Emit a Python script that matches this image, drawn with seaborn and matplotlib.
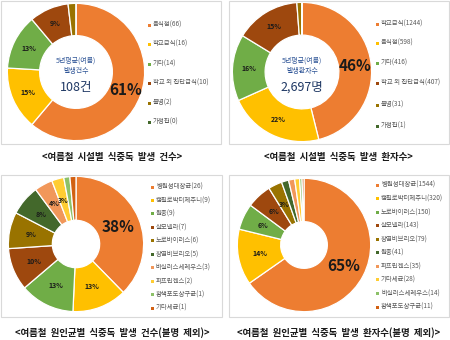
import numpy as np
import matplotlib
matplotlib.use("Agg")
import matplotlib.pyplot as plt
from matplotlib.patches import Rectangle
import seaborn as sns

# ---- data ---------------------------------------------------------------
fac_cnt_labels = ["음식점", "학교급식", "기타", "학교 외 집단급식", "불명", "가정집"]
fac_cnt_values = [66, 16, 14, 10, 2, 0]
fac_cnt_pct = ["61%", "15%", "13%", "9%", "", ""]

fac_pat_labels = ["학교급식", "음식점", "기타", "학교 외 집단급식", "불명", "가정집"]
fac_pat_values = [1244, 598, 416, 407, 31, 1]
fac_pat_pct = ["46%", "22%", "16%", "15%", "", ""]

cause_cnt_labels = ["병원성대장균", "캠필로박터제주니", "원충", "살모넬라", "노로바이러스",
                    "장염비브리오", "바실러스세레우스", "퍼프린젠스", "황색포도상구균", "기타세균"]
cause_cnt_values = [26, 9, 9, 7, 6, 5, 3, 2, 1, 1]
cause_cnt_pct = ["38%", "13%", "13%", "10%", "9%", "8%", "4%", "3%", "", ""]

cause_pat_labels = ["병원성대장균", "캠필로박터제주니", "노로바이러스", "살모넬라", "장염비브리오",
                    "원충", "퍼프린젠스", "기타세균", "바실러스세레우스", "황색포도상구균"]
cause_pat_values = [1544, 320, 150, 143, 79, 41, 35, 28, 14, 11]
cause_pat_pct = ["65%", "14%", "6%", "6%", "3%", "", "", "", "", ""]

captions = ["<여름철  시설별  식중독  발생  건수>",
            "<여름철  시설별  식중독  발생  환자수>",
            "<여름철  원인균별  식중독  발생  건수(불명  제외)>",
            "<여름철  원인균별  식중독  발생  환자수(불명  제외)>"]

# ---- style --------------------------------------------------------------
sns.set_theme(style="white")
plt.rcParams["font.family"] = ["Noto Sans CJK KR", "DejaVu Sans"]

palette = sns.color_palette(["#ED7D31", "#FFC000", "#70AD47", "#9E480E", "#997300",
                             "#43682B", "#F1975A", "#FFCD33", "#8CC168", "#D26012"])

W, H = 450, 340
fig = plt.figure(figsize=(W / 100, H / 100), dpi=100)
fig.patch.set_facecolor("white")


def fx(x):
    return x / W


def fy(y):
    return 1 - y / H


# panel frames
for (x0, y0, x1, y1) in [(1, 1, 221, 144), (229, 1, 449, 144),
                         (1, 175, 222, 317), (229, 175, 449, 317)]:
    fig.patches.append(Rectangle((fx(x0), fy(y1)), fx(x1) - fx(x0), fy(y0) - fy(y1),
                                 transform=fig.transFigure, fill=False,
                                 edgecolor="#D9D9D9", linewidth=0.8))


def donut(cx, cy, r, inner, values, pct, big_size, small_size):
    ax = fig.add_axes([fx(cx - r), fy(cy + r), 2 * r / W, 2 * r / H])
    vals = [v for v in values]
    wedges, _ = ax.pie(vals, colors=palette[:len(vals)], startangle=90,
                       counterclock=False, radius=1,
                       wedgeprops=dict(width=1 - inner, edgecolor="white", linewidth=0.9))
    ax.set_xlim(-1.02, 1.02)
    ax.set_ylim(-1.02, 1.02)
    ax.axis("off")
    rm = (1 + inner) / 2
    for i, (w, t) in enumerate(zip(wedges, pct)):
        if not t:
            continue
        ang = np.deg2rad((w.theta1 + w.theta2) / 2)
        if i == 0:
            ax.text(rm * np.cos(ang), rm * np.sin(ang), t, ha="center", va="center",
                    fontsize=big_size, fontweight="bold", color="#1a1a1a")
        else:
            ax.text(rm * np.cos(ang), rm * np.sin(ang), t, ha="center", va="center",
                    fontsize=small_size, fontweight="bold", color="#1a1a1a")
    return ax


def legend(x, ys, labels, values):
    for i, (y, lab, v) in enumerate(zip(ys, labels, values)):
        fig.patches.append(Rectangle((fx(x - 1.5), fy(y + 1.5)), 3 / W, 3 / H,
                                     transform=fig.transFigure, color=palette[i], lw=0))
        fig.text(fx(x + 4), fy(y), f"{lab}({v})", fontsize=4.6, color="#595959",
                 ha="left", va="center")


# panel 1
ax1 = donut(76, 72, 70, 0.53, fac_cnt_values, fac_cnt_pct, 11, 5)
ax1.text(0, 0.17, "5년평균(여름)", ha="center", va="center", fontsize=5, color="#2F5597")
ax1.text(0, 0.02, "발생건수", ha="center", va="center", fontsize=5, color="#2F5597")
ax1.text(0, -0.22, f"{sum(fac_cnt_values)}건", ha="center", va="center",
         fontsize=9, color="#1F3864")
legend(149, [25, 44, 64, 83, 103, 122], fac_cnt_labels, fac_cnt_values)
fig.text(fx(112), fy(157), captions[0], ha="center", va="center", fontsize=6.8,
         fontweight="bold", color="#1a1a1a")

# panel 2
ax2 = donut(302, 72, 71, 0.53, fac_pat_values, fac_pat_pct, 11, 5)
ax2.text(0, 0.17, "5년평균(여름)", ha="center", va="center", fontsize=5, color="#2F5597")
ax2.text(0, 0.02, "발생환자수", ha="center", va="center", fontsize=5, color="#2F5597")
ax2.text(0, -0.22, f"{sum(fac_pat_values):,}명", ha="center", va="center",
         fontsize=9, color="#1F3864")
legend(377, [24, 43, 63, 83, 105, 126], fac_pat_labels, fac_pat_values)
fig.text(fx(338), fy(157), captions[1], ha="center", va="center", fontsize=6.8,
         fontweight="bold", color="#1a1a1a")

# panel 3
donut(76, 244, 69, 0.35, cause_cnt_values, cause_cnt_pct, 11, 5)
legend(152, list(np.linspace(187, 308, 10)), cause_cnt_labels, cause_cnt_values)
fig.text(fx(112), fy(333), captions[2], ha="center", va="center", fontsize=6.8,
         fontweight="bold", color="#1a1a1a")

# panel 4
donut(304, 245, 68, 0.35, cause_pat_values, cause_pat_pct, 11, 5)
legend(377, list(np.linspace(185, 307, 10)), cause_pat_labels, cause_pat_values)
fig.text(fx(339), fy(333), captions[3], ha="center", va="center", fontsize=6.8,
         fontweight="bold", color="#1a1a1a")

fig.savefig("out.png", dpi=100, facecolor="white")
